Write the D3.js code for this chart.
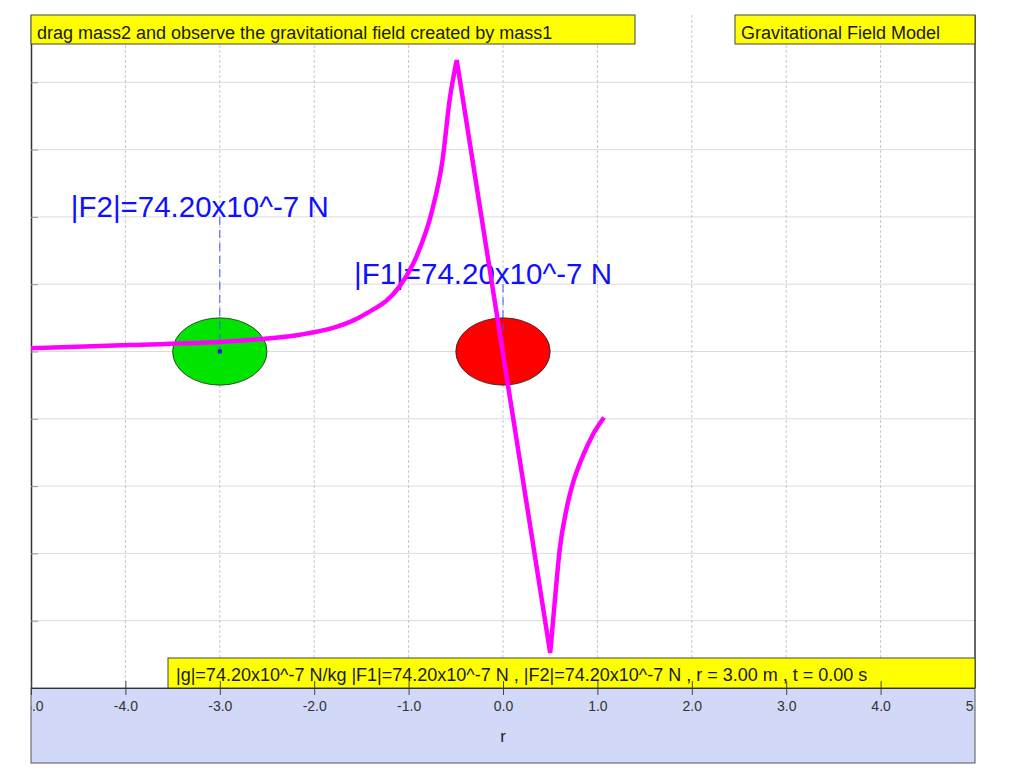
<!DOCTYPE html>
<html>
<head>
<meta charset="utf-8">
<script src="https://cdn.jsdelivr.net/npm/d3@7"></script>
<style>
  html, body { margin: 0; padding: 0; background: #fff; }
  svg { display: block; font-family: "Liberation Sans", Arial, sans-serif; }
</style>
</head>
<body>
<svg id="chart" width="1024" height="768"></svg>
<script>
// ---------- data ----------
const xTicks = [-5, -4, -3, -2, -1, 0, 1, 2, 3, 4, 5];
const yTicks = [-4, -3, -2, -1, 0, 1, 2, 3, 4];
const xAxisLabel = "r";

// gravitational field of mass1
const leftR  = [-5, -3.95, -3.0, -2.55, -2.15, -1.8, -1.62, -1.44, -1.1, -0.92, -0.75, -0.64, -0.565, -0.49];
const leftG  = [0.048, 0.097, 0.14, 0.185, 0.25, 0.35, 0.44, 0.57, 0.96, 1.40, 2.10, 2.85, 3.74, 4.33];
const rightR = [0.5, 0.55, 0.6, 0.67, 0.74, 0.85, 0.95, 1.07];
const rightG = [-4.48, -3.69, -2.95, -2.36, -1.96, -1.54, -1.24, -0.98];

// masses
const massNames  = ["mass1", "mass2"];
const massR      = [0, -3];
const massY      = [0, 0];
const massRadius = [0.5, 0.5];
const massColors = ["#ff0000", "#00e400"];

// force labels
const forceLabels = ["|F1|=74.20x10^-7 N", "|F2|=74.20x10^-7 N"];
const forceLabelY = [1.0, 2.0];

// text boxes
const titleText = "drag mass2 and observe the gravitational field created by mass1";
const modelText = "Gravitational Field Model";
const infoText  = "|g|=74.20x10^-7 N/kg |F1|=74.20x10^-7 N , |F2|=74.20x10^-7 N , r = 3.00 m , t = 0.00 s";

// ---------- layout ----------
const svg = d3.select("#chart");
const L = 31, R = 975, T = 15, B = 688, BAND_B = 763;

const x = d3.scaleLinear().domain([-5, 5]).range([L, R]);
const y = d3.scaleLinear().domain([-5, 5]).range([B, T]);

// plot clip
svg.append("defs").append("clipPath").attr("id", "plotclip")
  .append("rect").attr("x", L).attr("y", T).attr("width", R - L).attr("height", BAND_B - T);

// grid
const grid = svg.append("g");
grid.selectAll("line.h").data(yTicks).join("line")
  .attr("x1", L).attr("x2", R)
  .attr("y1", d => y(d)).attr("y2", d => y(d))
  .attr("stroke", "#dcdcdc").attr("stroke-width", 1);
grid.selectAll("line.v").data(xTicks.filter(d => d > -5 && d < 5)).join("line")
  .attr("x1", d => x(d)).attr("x2", d => x(d))
  .attr("y1", T).attr("y2", B)
  .attr("stroke", "#c8c8c8").attr("stroke-width", 1)
  .attr("stroke-dasharray", "3,2");

// left border + ticks
const yAxis = svg.append("g").attr("transform", `translate(${L},0)`)
  .call(d3.axisRight(y).tickValues(yTicks).tickSize(7).tickSizeOuter(0).tickFormat(""));
yAxis.select(".domain").attr("stroke", "#333").attr("stroke-width", 1.5);
yAxis.selectAll(".tick line").attr("stroke", "#999");

// right border
svg.append("line").attr("x1", R).attr("x2", R).attr("y1", T).attr("y2", B)
  .attr("stroke", "#333").attr("stroke-width", 1.5);

// bottom band
svg.append("rect").attr("x", L).attr("y", B).attr("width", R - L).attr("height", BAND_B - B)
  .attr("fill", "#d2d9f8").attr("stroke", "#555").attr("stroke-width", 1);

// masses
const mg = svg.append("g");
mg.selectAll("ellipse").data(massR).join("ellipse")
  .attr("cx", d => x(d))
  .attr("cy", (d, i) => y(massY[i]))
  .attr("rx", (d, i) => x(d + massRadius[i]) - x(d))
  .attr("ry", (d, i) => y(massY[i]) - y(massY[i] + massRadius[i]))
  .attr("fill", (d, i) => massColors[i])
  .attr("stroke", "#222").attr("stroke-width", 0.8);

// dashed force lines
mg.selectAll("line.f").data(massR).join("line")
  .attr("x1", d => x(d)).attr("x2", d => x(d))
  .attr("y1", (d, i) => y(forceLabelY[i])).attr("y2", (d, i) => y(massY[i]))
  .attr("stroke", "#4455ee").attr("stroke-width", 1)
  .attr("stroke-dasharray", "8,5");

// center squares
mg.selectAll("rect.c").data(massR).join("rect")
  .attr("x", d => x(d) - 2).attr("y", (d, i) => y(massY[i]) - 2)
  .attr("width", 4).attr("height", 4)
  .attr("fill", "#0000ee");

// force labels
mg.selectAll("text.f").data(forceLabels).join("text")
  .attr("x", (d, i) => x(massR[i]) - 20)
  .attr("y", (d, i) => y(forceLabelY[i]))
  .attr("text-anchor", "middle")
  .attr("font-size", 29.5)
  .attr("fill", "#1010ff")
  .text(d => d);

// field curve (sharp corners at peak and trough)
const lineGen = d3.line().x(d => x(d[0])).y(d => y(d[1])).curve(d3.curveMonotoneX);
const leftPts  = leftR.map((r, i) => [r, leftG[i]]);
const rightPts = rightR.map((r, i) => [r, rightG[i]]);
const pathD = lineGen(leftPts) + lineGen(rightPts).replace(/^M/, "L");
svg.append("path").attr("d", pathD)
  .attr("fill", "none").attr("stroke", "#ff00ff").attr("stroke-width", 4.5)
  .attr("stroke-linejoin", "miter");

// text boxes
function box(x0, y0, x1, y1, txt, tx, ty) {
  svg.append("rect").attr("x", x0).attr("y", y0).attr("width", x1 - x0).attr("height", y1 - y0)
    .attr("fill", "#ffff00").attr("stroke", "#444").attr("stroke-width", 1);
  svg.append("text").attr("x", tx).attr("y", ty).attr("font-size", 18)
    .attr("fill", "#1a1a1a").text(txt);
}
box(L, T, 635, 44, titleText, 37, 39);
box(735, T, R, 44, modelText, 741, 39);
box(168, 658, R, B, infoText, 176, 681);

// bottom axis (drawn over info box), clipped to plot width
const axisClip = svg.append("g").attr("clip-path", "url(#plotclip)");
const xAxis = axisClip.append("g").attr("transform", `translate(0,${B})`)
  .call(d3.axisBottom(x).tickValues(xTicks).tickSizeInner(7).tickSizeOuter(0).tickPadding(6)
    .tickFormat(d => d.toFixed(1)));
xAxis.select(".domain").attr("stroke", "#333");
xAxis.selectAll(".tick line").attr("y1", -7).attr("y2", 7).attr("stroke", "#444");
xAxis.selectAll(".tick text").attr("font-size", 14).attr("fill", "#333")
  .attr("font-family", "Liberation Sans, Arial, sans-serif");

svg.append("text").attr("x", x(0)).attr("y", 742).attr("text-anchor", "middle")
  .attr("font-size", 17).attr("fill", "#222").text(xAxisLabel);
</script>
</body>
</html>
